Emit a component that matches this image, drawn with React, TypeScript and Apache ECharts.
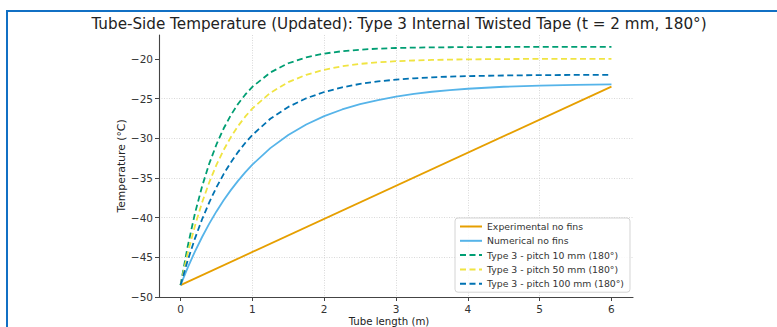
import React, { useEffect, useRef } from "react";
import * as echarts from "echarts";

// Tube length positions (m) at which the curves were read
const xs = [0, 0.1, 0.2, 0.3, 0.4, 0.5, 0.6, 0.7, 0.8, 0.9, 1.0, 1.25, 1.5, 1.75, 2.0, 2.25, 2.5, 2.75, 3.0, 3.25, 3.5, 3.75, 4.0, 4.5, 5.0, 5.5, 6.0];

// Experimental no fins (straight line)
const experimentalX = [0, 6];
const experimental = [-48.5, -23.5];

// Numerical no fins
const numerical = [-48.5, -46.29, -44.28, -42.44, -40.76, -39.22, -37.82, -36.54, -35.37, -34.31, -33.33, -31.25, -29.6, -28.27, -27.22, -26.38, -25.72, -25.19, -24.76, -24.42, -24.15, -23.94, -23.77, -23.52, -23.37, -23.27, -23.21];

// Type 3 - pitch 10 mm (180°)
const pitch10 = [-48.5, -43.6, -39.49, -36.06, -33.19, -30.79, -28.78, -27.1, -25.69, -24.52, -23.53, -21.72, -20.56, -19.82, -19.34, -19.04, -18.85, -18.72, -18.64, -18.59, -18.56, -18.54, -18.52, -18.51, -18.5, -18.5, -18.5];

// Type 3 - pitch 50 mm (180°)
const pitch50 = [-48.5, -44.49, -41.05, -38.09, -35.55, -33.36, -31.48, -29.87, -28.48, -27.29, -26.26, -24.29, -22.94, -22.01, -21.38, -20.94, -20.64, -20.44, -20.3, -20.21, -20.14, -20.1, -20.07, -20.03, -20.01, -20.01, -20.0];

// Type 3 - pitch 100 mm (180°)
const pitch100 = [-48.5, -45.39, -42.64, -40.21, -38.07, -36.18, -34.52, -33.05, -31.75, -30.6, -29.59, -27.55, -26.06, -24.97, -24.18, -23.59, -23.16, -22.85, -22.62, -22.46, -22.33, -22.24, -22.18, -22.1, -22.05, -22.03, -22.01];

const xTicks = [0, 1, 2, 3, 4, 5, 6];
const yTicks = [-50, -45, -40, -35, -30, -25, -20];

const seriesNames = [
  "Experimental no fins",
  "Numerical no fins",
  "Type 3 - pitch 10 mm (180°)",
  "Type 3 - pitch 50 mm (180°)",
  "Type 3 - pitch 100 mm (180°)",
];

const titleText = "Tube-Side Temperature (Updated): Type 3 Internal Twisted Tape (t = 2 mm, 180°)";
const xLabel = "Tube length (m)";
const yLabel = "Temperature (°C)";

const FONT = "DejaVu Sans";

const pairs = (x: number[], y: number[]) => x.map((v, i) => [v, y[i]]);
const fmt = (v: number) => String(v).replace("-", "\u2212");

export default function App() {
  const ref = useRef<HTMLDivElement>(null);

  useEffect(() => {
    if (!ref.current) return;
    const chart = echarts.init(ref.current, undefined, { renderer: "svg" });
    const axisColor = "#444";
    const gridLine = { show: true, showMinLine: false, showMaxLine: false, lineStyle: { color: "#cfcfcf", type: [1, 1.5], width: 0.8 } };
    const lineSeries = (name: string, data: number[][], color: string, dashed: boolean) => ({
      type: "line",
      name,
      data,
      symbol: "none",
      showSymbol: false,
      smooth: false,
      lineStyle: { color, width: 1.8, type: dashed ? [6, 3.5] : "solid", join: "round" },
      itemStyle: { color },
    });

    chart.setOption({
      animation: false,
      backgroundColor: "#ffffff",
      textStyle: { fontFamily: FONT },
      grid: { left: 159, right: 144, top: 35, bottom: 30, containLabel: false },
      xAxis: {
        type: "value",
        min: -0.3,
        max: 6.3,
        axisLine: { show: true, onZero: false, lineStyle: { color: axisColor, width: 1.1 } },
        axisTick: { show: true, length: 4, customValues: xTicks, lineStyle: { color: axisColor } },
        axisLabel: { customValues: xTicks, formatter: fmt, fontSize: 10.5, color: "#333", margin: 6, fontFamily: FONT },
        splitLine: gridLine,
      },
      yAxis: {
        type: "value",
        min: -50,
        max: -17,
        interval: 5,
        axisLine: { show: true, onZero: false, lineStyle: { color: axisColor, width: 1.1 } },
        axisTick: { show: true, length: 4, customValues: yTicks, lineStyle: { color: axisColor } },
        axisLabel: { customValues: yTicks, formatter: fmt, fontSize: 10.5, color: "#333", margin: 6, fontFamily: FONT },
        splitLine: gridLine,
      },
      legend: {
        orient: "vertical",
        left: 455,
        top: 218,
        padding: [3, 6, 3, 4],
        itemWidth: 22,
        itemHeight: 11,
        itemGap: 3.3,
        itemStyle: { opacity: 0 },
        textStyle: { fontSize: 9.3, color: "#333", lineHeight: 11, fontFamily: FONT },
        borderColor: "#d4d4d4",
        borderWidth: 1,
        borderRadius: 3,
        backgroundColor: "rgba(255,255,255,0.85)",
        data: seriesNames,
      },
      graphic: [
        {
          type: "polyline",
          shape: { points: [[7, 327], [7, 11], [777, 11]] },
          style: { stroke: "#1170c4", lineWidth: 2, fill: "none" },
          silent: true,
        },
        {
          type: "text",
          x: 399,
          y: 24,
          style: { text: titleText, fontSize: 15.2, fontFamily: FONT, fill: "#222", textAlign: "center", textVerticalAlign: "middle" },
        },
        {
          type: "text",
          x: 389,
          y: 321,
          style: { text: xLabel, fontSize: 10.2, fontFamily: FONT, fill: "#222", textAlign: "center", textVerticalAlign: "middle" },
        },
        {
          type: "text",
          x: 121,
          y: 166,
          rotation: Math.PI / 2,
          style: { text: yLabel, fontSize: 10.8, fontFamily: FONT, fill: "#222", textAlign: "center", textVerticalAlign: "middle" },
        },
      ],
      series: [
        lineSeries(seriesNames[0], pairs(experimentalX, experimental), "#E69F00", false),
        lineSeries(seriesNames[1], pairs(xs, numerical), "#56B4E9", false),
        lineSeries(seriesNames[2], pairs(xs, pitch10), "#009E73", true),
        lineSeries(seriesNames[3], pairs(xs, pitch50), "#F0E442", true),
        lineSeries(seriesNames[4], pairs(xs, pitch100), "#0072B2", true),
      ],
    });

    return () => chart.dispose();
  }, []);

  return <div ref={ref} style={{ position: "absolute", left: 0, top: 0, width: 777, height: 327 }} />;
}
